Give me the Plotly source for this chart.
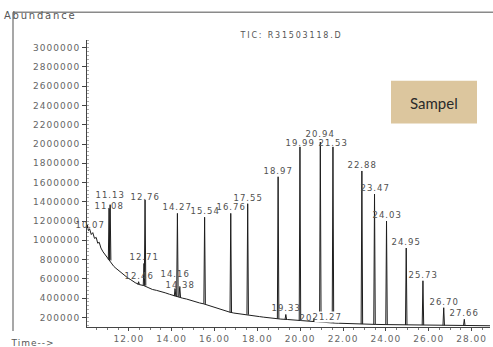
import plotly.graph_objects as go

# ---- chromatogram data (retention time in min, abundance in counts) ----
base_time = [10.05, 10.09, 10.12, 10.17, 10.25, 10.32, 10.40, 10.48, 10.55, 10.62, 10.70,
             10.80, 10.90, 11.00, 11.10, 11.20, 11.30, 11.40, 11.50, 11.65, 11.80, 11.95,
             12.10, 12.30, 12.50, 12.70, 12.90, 13.10, 13.30, 13.50, 13.70, 13.90, 14.10,
             14.30, 14.50, 14.70, 14.90, 15.10, 15.30, 15.50, 15.70, 15.90, 16.10, 16.30,
             16.50, 16.70, 16.90, 17.10, 17.30, 17.50, 17.70, 17.90, 18.10, 18.30, 18.50,
             18.70, 18.90, 19.10, 19.40, 19.70, 20.00, 20.30, 20.60, 20.90, 21.20, 21.50,
             21.80, 22.10, 22.50, 23.00, 23.50, 24.00, 24.50, 25.00, 25.50, 26.00, 26.50,
             27.00, 27.50, 28.00, 28.86]
base_abund = [1150000, 1130000, 1100000, 1120000, 1060000, 1080000, 1020000, 1030000,
              970000, 980000, 920000, 880000, 850000, 810000, 790000, 760000, 730000,
              710000, 690000, 660000, 630000, 610000, 590000, 560000, 540000, 530000,
              510000, 490000, 480000, 470000, 455000, 440000, 425000, 415000, 400000,
              390000, 375000, 365000, 350000, 340000, 325000, 310000, 295000, 280000,
              270000, 255000, 245000, 240000, 235000, 228000, 222000, 215000, 208000,
              202000, 196000, 190000, 186000, 182000, 178000, 172000, 166000, 160000,
              155000, 150000, 146000, 142000, 139000, 136000, 133000, 130000, 127000,
              125000, 123000, 121000, 120000, 118000, 117000, 116000, 115000, 114000,
              113000]

peak_time = [10.07, 11.08, 11.13, 12.46, 12.71, 12.76, 14.16, 14.27, 14.38, 15.54,
             16.76, 17.55, 18.97, 19.33, 19.99, 20.65, 20.94, 21.27, 21.53, 22.88,
             23.47, 24.03, 24.95, 25.73, 26.70, 27.66]
peak_apex = [1160000, 1330000, 1370000, 570000, 760000, 1420000, 500000, 1280000,
             520000, 1240000, 1280000, 1380000, 1660000, 230000, 1970000, 190000,
             2020000, 190000, 1970000, 1720000, 1480000, 1200000, 920000, 580000,
             300000, 180000]
peak_foot = [1120000, 800000, 790000, 540000, 530000, 530000, 420000, 415000, 410000,
             340000, 250000, 228000, 186000, 180000, 166000, 155000, 150000, 146000,
             142000, 130000, 128000, 125000, 121000, 120000, 117000, 115000]
peak_label = ["10.07", "11.08", "11.13", "12.46", "12.71", "12.76", "14.16", "14.27",
              "14.38", "15.54", "16.76", "17.55", "18.97", "19.33", "19.99", "20.65",
              "20.94", "21.27", "21.53", "22.88", "23.47", "24.03", "24.95", "25.73",
              "26.70", "27.66"]

x_ticks = [12, 14, 16, 18, 20, 22, 24, 26, 28]
x_tick_text = ["12.00", "14.00", "16.00", "18.00", "20.00", "22.00", "24.00", "26.00", "28.00"]
y_ticks = [200000, 400000, 600000, 800000, 1000000, 1200000, 1400000, 1600000,
           1800000, 2000000, 2200000, 2400000, 2600000, 2800000, 3000000]
y_tick_text = [str(v) for v in y_ticks]

# ---- styling ----
W, H = 493, 347
ML, MR, MT, MB = 87, 3, 40, 18
HALF_W = 0.035            # half base width of a drawn peak, in minutes
TRACE = "#1e1e1e"
TICKFONT = dict(family="DejaVu Sans", size=9, color="#666666")
LABELFONT = dict(family="DejaVu Sans", size=8.5, color="#505050")
# vertical nudges (px) for crowded peak labels
label_nudge = {"10.07": -6, "11.08": -3, "11.13": 4, "12.76": -3, "14.16": 8,
               "14.38": -4, "19.99": -2, "20.94": 2, "21.53": -2, "20.65": -6,
               "21.27": -5}
label_side = {"10.07": 3}

fig = go.Figure()
fig.add_trace(go.Scatter(x=base_time, y=base_abund, mode="lines",
                         line=dict(color=TRACE, width=1), hoverinfo="skip"))

# each peak is drawn as a narrow spike rising from its own baseline level
px, py = [], []
for t, a, f in zip(peak_time, peak_apex, peak_foot):
    px += [t - HALF_W, t, t + HALF_W, None]
    py += [f, a, f, None]
fig.add_trace(go.Scatter(x=px, y=py, mode="lines", connectgaps=False,
                         line=dict(color=TRACE, width=1), hoverinfo="skip"))

for t, a, lab in zip(peak_time, peak_apex, peak_label):
    fig.add_annotation(x=t, y=a, text=lab, showarrow=False, xanchor="center",
                       yanchor="bottom", yshift=label_nudge.get(lab, 0),
                       xshift=label_side.get(lab, 0),
                       font=LABELFONT, borderpad=0,
                       bgcolor="white" if lab == "21.27" else None)

pw, ph = W - ML - MR, H - MT - MB
def paper_x(p):
    return (p - ML) / pw
def paper_y(p):
    return (H - MB - p) / ph

# frame lines at the top and left of the page
fig.add_shape(type="line", xref="paper", yref="paper", x0=paper_x(13), x1=paper_x(493),
              y0=paper_y(12), y1=paper_y(12), line=dict(color="#8a8a8a", width=1.5))
fig.add_shape(type="line", xref="paper", yref="paper", x0=paper_x(13), x1=paper_x(13),
              y0=paper_y(12), y1=paper_y(333), line=dict(color="#8a8a8a", width=1.5))

# sample tag
fig.add_shape(type="rect", xref="paper", yref="paper", x0=paper_x(391), x1=paper_x(477),
              y0=paper_y(124), y1=paper_y(81), fillcolor="#dcc69e", line=dict(width=0))
fig.add_annotation(xref="paper", yref="paper", x=paper_x(434), y=paper_y(103),
                   text="Sampel", showarrow=False, xanchor="center", yanchor="middle",
                   font=dict(family="Lato", size=15, color="#2a2a2a"))

fig.add_annotation(xref="paper", yref="paper", x=paper_x(10), y=paper_y(15),
                   text="Abundance", showarrow=False, xanchor="left", yanchor="middle",
                   font=dict(family="DejaVu Sans", size=10, color="#555555"))
fig.add_annotation(xref="paper", yref="paper", x=paper_x(291), y=paper_y(35),
                   text="TIC: R31503118.D", showarrow=False, xanchor="center",
                   yanchor="middle", font=dict(family="DejaVu Sans", size=8, color="#555555"))
fig.add_annotation(xref="paper", yref="paper", x=paper_x(12), y=paper_y(345),
                   text="Time-->", showarrow=False, xanchor="left", yanchor="middle",
                   font=dict(family="DejaVu Sans", size=9, color="#555555"))

fig.update_xaxes(range=[10.05, 28.86], tickvals=x_ticks, ticktext=x_tick_text,
                 showline=True, linecolor="#444444", linewidth=1, showgrid=False,
                 zeroline=False, ticks="outside", ticklen=3, tickcolor="#444444",
                 tickfont=TICKFONT,
                 minor=dict(ticks="outside", ticklen=2, dtick=0.5, tickcolor="#777777"))
fig.update_yaxes(range=[100000, 3080000], tickvals=y_ticks, ticktext=y_tick_text,
                 showline=True, linecolor="#444444", linewidth=1, showgrid=False,
                 zeroline=False, ticks="outside", ticklen=4, tickcolor="#444444",
                 tickfont=TICKFONT,
                 minor=dict(ticks="inside", ticklen=2, dtick=40000, tickcolor="#aaaaaa"))

fig.update_layout(width=W, height=H, margin=dict(l=ML, r=MR, t=MT, b=MB),
                  showlegend=False, plot_bgcolor="white", paper_bgcolor="white")

# widen the plain labels a little, like the instrument printout's lettering
post = """
var gd = document.getElementById('{plot_id}');
var wide = {'Abundance': '1.8px', 'TIC: R31503118.D': '1.8px'};
gd.querySelectorAll('.xtick text, .ytick text, .annotation-text').forEach(function (t) {
  var s = t.textContent;
  if (s === 'Sampel') { return; }
  t.style.letterSpacing = wide[s] || '1px';
});
"""
fig.write_html("out.html", post_script=post)
